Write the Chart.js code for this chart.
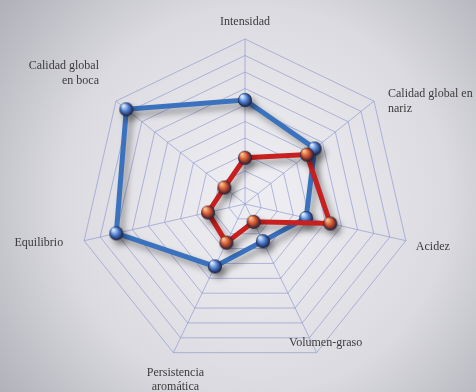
<!DOCTYPE html>
<html>
<head>
<meta charset="utf-8">
<script src="https://cdn.jsdelivr.net/npm/chart.js@4/dist/chart.umd.min.js"></script>
<style>
  html, body { margin: 0; padding: 0; background: #d6d6dc; }
  canvas { display: block; }
</style>
</head>
<body>
<canvas id="radar" width="476" height="392"></canvas>
<script>
// axis labels, clockwise from top
const labels = [
    'Intensidad',
    ['Calidad global en', 'nariz'],
    'Acidez',
    'Volumen-graso',
    ['Persistencia', 'aromática'],
    'Equilibrio',
    ['Calidad global', 'en boca']
];
const blueValues = [6.3, 5.4, 3.8, 2.5, 4.2, 8.0, 9.2];
const redValues = [2.8, 4.8, 5.3, 1.2, 2.6, 2.3, 1.6];

function sphere(base, light, r) {
    const c = document.createElement('canvas');
    c.width = c.height = r * 2 + 2;
    const g = c.getContext('2d');
    const grad = g.createRadialGradient(r * 0.7, r * 0.6, 1, r + 1, r + 1, r);
    grad.addColorStop(0, light);
    grad.addColorStop(0.5, base);
    grad.addColorStop(1, '#1a1a3a');
    g.fillStyle = grad;
    g.beginPath();
    g.arc(r + 1, r + 1, r, 0, Math.PI * 2);
    g.fill();
    return c;
}

const bgPlugin = {
    id: 'bg',
    beforeDraw(chart) {
        const { ctx, width, height } = chart;
        ctx.save();
        const g = ctx.createRadialGradient(255, 200, 30, 255, 200, 330);
        g.addColorStop(0, '#ededf1');
        g.addColorStop(0.55, '#dadae0');
        g.addColorStop(1, '#aeaeb6');
        ctx.fillStyle = g;
        ctx.fillRect(0, 0, width, height);
        ctx.restore();
    }
};

const shadowPlugin = {
    id: 'shadow',
    beforeDatasetsDraw(chart) {
        const ctx = chart.ctx;
        ctx.save();
        ctx.shadowColor = 'rgba(0,0,0,0.35)';
        ctx.shadowBlur = 6;
        ctx.shadowOffsetX = 4;
        ctx.shadowOffsetY = 5;
    },
    afterDatasetsDraw(chart) {
        chart.ctx.restore();
    }
};

// label placement relative to each outer vertex: [dx, dy, align]
const labelPlace = [
    [0, -17, 'center'],
    [14, -7, 'left'],
    [10, 6, 'left'],
    [9, -10, 'center'],
    [2, 20, 'center'],
    [-21, 2, 'right'],
    [-17, -35, 'right']
];

const labelPlugin = {
    id: 'axisLabels',
    afterDraw(chart) {
        const scale = chart.scales.r;
        const ctx = chart.ctx;
        ctx.save();
        ctx.font = '12px "Liberation Serif"';
        ctx.fillStyle = '#3c3c3c';
        ctx.textBaseline = 'middle';
        labels.forEach((lab, i) => {
            const p = scale.getPointPositionForValue(i, scale.max);
            const [dx, dy, align] = labelPlace[i];
            ctx.textAlign = align;
            const lines = Array.isArray(lab) ? lab : [lab];
            lines.forEach((t, j) => ctx.fillText(t, p.x + dx, p.y + dy + j * 14.5));
        });
        ctx.restore();
    }
};

new Chart(document.getElementById('radar'), {
    type: 'radar',
    data: {
        labels: labels,
        datasets: [{
            label: 'B',
            data: redValues,
            borderColor: '#c8201e',
            backgroundColor: 'transparent',
            borderWidth: 5,
            pointStyle: sphere('#d0502a', '#f6c090', 7),
            pointRadius: 7,
            order: 0
        }, {
            label: 'A',
            data: blueValues,
            borderColor: '#3a72be',
            backgroundColor: 'transparent',
            borderWidth: 5,
            pointStyle: sphere('#4a7ed0', '#d8e8ff', 7),
            pointRadius: 7,
            order: 1
        }]
    },
    options: {
        responsive: false,
        animation: false,
        layout: { padding: { top: 39, left: 80, right: 66, bottom: 23 } },
        plugins: {
            legend: { display: false },
            tooltip: { enabled: false }
        },
        scales: {
            r: {
                min: 0,
                max: 10,
                ticks: { display: false, stepSize: 1 },
                grid: { color: 'rgba(135,145,205,0.6)', lineWidth: 1 },
                angleLines: { color: 'rgba(135,145,205,0.6)', lineWidth: 1 },
                pointLabels: { display: false }
            }
        }
    },
    plugins: [bgPlugin, shadowPlugin, labelPlugin]
});
</script>
</body>
</html>
